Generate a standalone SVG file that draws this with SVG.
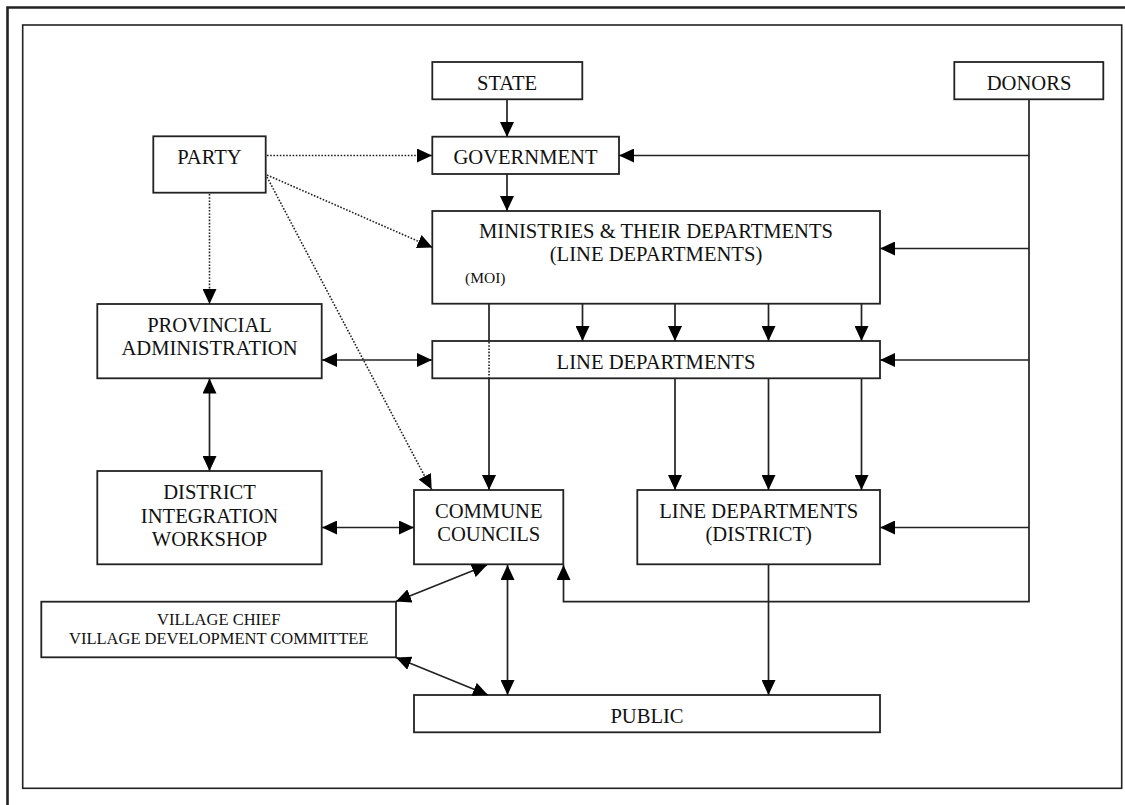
<svg xmlns="http://www.w3.org/2000/svg" width="1125" height="805" viewBox="0 0 1125 805">
  <style>
    .box { fill: #fff; stroke: #222; stroke-width: 1.8; }
    .lbl { font-family: "Liberation Serif", "Times New Roman", serif; font-size: 20.6px; fill: #111; text-anchor: middle; }
    .sm { font-size: 16.5px; }
    .xs { font-size: 15.5px; text-anchor: start; }
    .ln { fill: none; stroke: #222; stroke-width: 1.7; }
    .dot { fill: none; stroke: #222; stroke-width: 1.6; stroke-dasharray: 1.6 1.6; }
    .frame { fill: none; stroke: #222; }
  </style>
  <defs>
    <marker id="ah" markerUnits="userSpaceOnUse" markerWidth="15" markerHeight="14" refX="15" refY="7" orient="auto-start-reverse">
      <path d="M0,0 L15,7 L0,14 Z" fill="#000"/>
    </marker>
  </defs>

  <!-- page frames -->
  <g id="frames">
    <path class="frame" stroke-width="2.6" d="M7.5,805 V7.5 H1125"/>
    <rect class="frame" stroke-width="1.6" x="22.7" y="25" width="1099" height="763.3"/>
  </g>

  <!-- nodes -->
  <g id="state">
    <rect class="box" x="432.3" y="62" width="150" height="37.3"/>
    <text class="lbl" x="507" y="89.5">STATE</text>
  </g>
  <g id="donors">
    <rect class="box" x="954.3" y="62" width="149" height="37.3"/>
    <text class="lbl" x="1029" y="89.5">DONORS</text>
  </g>
  <g id="government">
    <rect class="box" x="432.3" y="136.7" width="186.7" height="37.3"/>
    <text class="lbl" x="525.5" y="163.5">GOVERNMENT</text>
  </g>
  <g id="party">
    <rect class="box" x="153.3" y="136.3" width="112.4" height="56.4"/>
    <text class="lbl" x="209.5" y="163.5">PARTY</text>
  </g>
  <g id="ministries">
    <rect class="box" x="432.3" y="211" width="447.7" height="92.7"/>
    <text class="lbl" x="656" y="238">MINISTRIES &amp; THEIR DEPARTMENTS</text>
    <text class="lbl" x="656" y="261">(LINE DEPARTMENTS)</text>
    <text class="lbl xs" x="465" y="283">(MOI)</text>
  </g>
  <g id="provincial-administration">
    <rect class="box" x="97.3" y="304" width="224.4" height="74.3"/>
    <text class="lbl" x="209.5" y="331.5">PROVINCIAL</text>
    <text class="lbl" x="209.5" y="355">ADMINISTRATION</text>
  </g>
  <g id="line-departments">
    <rect class="box" x="432.3" y="341" width="447.7" height="37.3"/>
    <text class="lbl" x="656" y="368.5">LINE DEPARTMENTS</text>
  </g>
  <g id="district-integration-workshop">
    <rect class="box" x="97.3" y="471" width="224.4" height="93.3"/>
    <text class="lbl" x="209.5" y="499">DISTRICT</text>
    <text class="lbl" x="209.5" y="522.5">INTEGRATION</text>
    <text class="lbl" x="209.5" y="546">WORKSHOP</text>
  </g>
  <g id="commune-councils">
    <rect class="box" x="414" y="490" width="149.3" height="74.3"/>
    <text class="lbl" x="488.7" y="517.5">COMMUNE</text>
    <text class="lbl" x="488.7" y="540.5">COUNCILS</text>
  </g>
  <g id="line-departments-district">
    <rect class="box" x="637.3" y="490" width="242.7" height="74.3"/>
    <text class="lbl" x="758.7" y="517.5">LINE DEPARTMENTS</text>
    <text class="lbl" x="758.7" y="540.5">(DISTRICT)</text>
  </g>
  <g id="village">
    <rect class="box" x="41.3" y="601.7" width="354.7" height="55.6"/>
    <text class="lbl sm" x="218.7" y="625">VILLAGE CHIEF</text>
    <text class="lbl sm" x="218.7" y="644">VILLAGE DEVELOPMENT COMMITTEE</text>
  </g>
  <g id="public">
    <rect class="box" x="414" y="695" width="466" height="37.3"/>
    <text class="lbl" x="647" y="722.5">PUBLIC</text>
  </g>

  <!-- connectors -->
  <g id="connectors">
    <!-- state / government / ministries -->
    <line class="ln" x1="507" y1="99" x2="507" y2="137" marker-end="url(#ah)"/>
    <line class="ln" x1="507" y1="174" x2="507" y2="211" marker-end="url(#ah)"/>
    <!-- ministries to line departments -->
    <line class="ln" x1="582.5" y1="304" x2="582.5" y2="341" marker-end="url(#ah)"/>
    <line class="ln" x1="675" y1="304" x2="675" y2="341" marker-end="url(#ah)"/>
    <line class="ln" x1="768.5" y1="304" x2="768.5" y2="341" marker-end="url(#ah)"/>
    <line class="ln" x1="861.5" y1="304" x2="861.5" y2="341" marker-end="url(#ah)"/>
    <!-- MOI line to commune councils -->
    <line class="ln" x1="489" y1="304" x2="489" y2="341"/>
    <line class="dot" x1="489" y1="342" x2="489" y2="378"/>
    <line class="ln" x1="489" y1="378" x2="489" y2="490" marker-end="url(#ah)"/>
    <!-- line departments to district line departments -->
    <line class="ln" x1="675" y1="378" x2="675" y2="490" marker-end="url(#ah)"/>
    <line class="ln" x1="768.5" y1="378" x2="768.5" y2="490" marker-end="url(#ah)"/>
    <line class="ln" x1="861.5" y1="378" x2="861.5" y2="490" marker-end="url(#ah)"/>
    <!-- district line departments to public -->
    <line class="ln" x1="768.5" y1="564" x2="768.5" y2="695" marker-end="url(#ah)"/>

    <!-- party (dotted) -->
    <line class="dot" x1="267" y1="155.5" x2="432" y2="155.5" marker-end="url(#ah)"/>
    <line class="dot" x1="267" y1="175" x2="432.5" y2="247.5" marker-end="url(#ah)"/>
    <line class="dot" x1="267" y1="177" x2="431.7" y2="489.5" marker-end="url(#ah)"/>
    <line class="dot" x1="209.5" y1="194" x2="209.5" y2="304" marker-end="url(#ah)"/>

    <!-- two-way links -->
    <line class="ln" x1="322" y1="360" x2="432" y2="360" marker-start="url(#ah)" marker-end="url(#ah)"/>
    <line class="ln" x1="209.5" y1="378.5" x2="209.5" y2="471" marker-start="url(#ah)" marker-end="url(#ah)"/>
    <line class="ln" x1="322" y1="527.5" x2="414" y2="527.5" marker-start="url(#ah)" marker-end="url(#ah)"/>
    <line class="ln" x1="396" y1="601.5" x2="487" y2="565" marker-start="url(#ah)" marker-end="url(#ah)"/>
    <line class="ln" x1="396" y1="657.5" x2="488" y2="695" marker-start="url(#ah)" marker-end="url(#ah)"/>
    <line class="ln" x1="507.5" y1="565" x2="507.5" y2="695" marker-start="url(#ah)" marker-end="url(#ah)"/>

    <!-- donors feed -->
    <path class="ln" d="M1029,99 V601.7 H563.5 V565" marker-end="url(#ah)"/>
    <line class="ln" x1="1029" y1="155.5" x2="619" y2="155.5" marker-end="url(#ah)"/>
    <line class="ln" x1="1029" y1="248.5" x2="880" y2="248.5" marker-end="url(#ah)"/>
    <line class="ln" x1="1029" y1="360" x2="880" y2="360" marker-end="url(#ah)"/>
    <line class="ln" x1="1029" y1="527.5" x2="880" y2="527.5" marker-end="url(#ah)"/>
  </g>
</svg>
